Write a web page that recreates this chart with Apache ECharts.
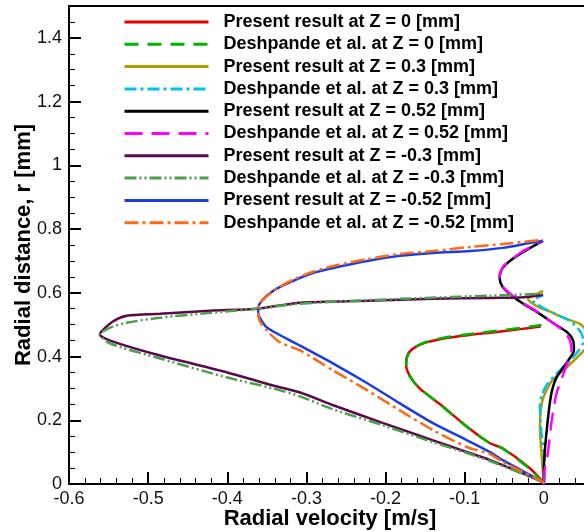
<!DOCTYPE html>
<html>
<head>
<meta charset="utf-8">
<script src="https://cdn.jsdelivr.net/npm/echarts@6/dist/echarts.min.js"></script>
<style>
  html, body { margin: 0; padding: 0; background: #fff; }
  #chart { width: 584px; height: 532px; }
</style>
</head>
<body>
<div id="chart"></div>
<script>
// Radial velocity profiles [v (m/s), r (mm)] at several axial stations Z

// Z = 0 mm
const presentZ0 = [[0,0],[-0.001,0.006],[-0.018,0.05],[-0.052,0.112],[-0.068,0.128],[-0.097,0.18],[-0.131,0.25],[-0.157,0.30],[-0.169,0.338],[-0.174,0.372],[-0.173,0.40],[-0.167,0.422],[-0.153,0.441],[-0.128,0.456],[-0.097,0.467],[-0.068,0.475],[-0.030,0.486],[-0.004,0.494]];
const deshpandeZ0 = [[0,0],[-0.002,0.008],[-0.02,0.052],[-0.054,0.114],[-0.07,0.131],[-0.099,0.183],[-0.133,0.253],[-0.158,0.303],[-0.17,0.34],[-0.174,0.374],[-0.172,0.403],[-0.165,0.425],[-0.151,0.444],[-0.126,0.459],[-0.095,0.47],[-0.066,0.479],[-0.028,0.49],[-0.003,0.499]];

// Z = 0.3 mm
const presentZ03 = [[0,0],[-0.001,0.03],[-0.003,0.097],[-0.005,0.178],[-0.004,0.231],[-0.001,0.269],[0.008,0.316],[0.018,0.344],[0.029,0.366],[0.042,0.397],[0.053,0.426],[0.058,0.452],[0.054,0.48],[0.045,0.503],[0.024,0.522],[0.008,0.541],[-0.005,0.553],[-0.017,0.571],[-0.02,0.581],[-0.011,0.594],[-0.001,0.606]];
const deshpandeZ03 = [[0,0],[0.001,0.03],[0.001,0.075],[-0.003,0.159],[-0.005,0.241],[-0.003,0.278],[0.005,0.316],[0.02,0.356],[0.033,0.388],[0.044,0.419],[0.05,0.447],[0.047,0.475],[0.034,0.51],[0.014,0.534],[0.001,0.55],[-0.011,0.568],[-0.014,0.576],[-0.008,0.585],[-0.001,0.592]];

// Z = 0.52 mm
const presentZ052 = [[0,0],[0,0.044],[0.001,0.097],[0.004,0.178],[0.008,0.262],[0.011,0.30],[0.016,0.334],[0.03,0.385],[0.038,0.42],[0.037,0.45],[0.03,0.475],[0.013,0.503],[-0.009,0.54],[-0.027,0.567],[-0.04,0.59],[-0.052,0.618],[-0.056,0.648],[-0.052,0.678],[-0.043,0.70],[-0.03,0.722],[-0.015,0.744],[-0.001,0.763]];
const deshpandeZ052 = [[0,0],[0.001,0.044],[0.005,0.097],[0.01,0.20],[0.016,0.284],[0.024,0.341],[0.03,0.381],[0.035,0.419],[0.033,0.45],[0.026,0.478],[0.011,0.506],[-0.009,0.542],[-0.027,0.569],[-0.04,0.592],[-0.053,0.622],[-0.056,0.653],[-0.051,0.684],[-0.04,0.706],[-0.028,0.728],[-0.014,0.747],[-0.001,0.764]];

// Z = -0.3 mm
const presentZm03 = [[0,0],[-0.001,0.006],[-0.068,0.075],[-0.097,0.10],[-0.14,0.137],[-0.203,0.191],[-0.266,0.247],[-0.308,0.287],[-0.342,0.309],[-0.40,0.35],[-0.485,0.403],[-0.548,0.45],[-0.561,0.469],[-0.545,0.509],[-0.527,0.528],[-0.485,0.534],[-0.422,0.544],[-0.362,0.55],[-0.308,0.569],[-0.223,0.575],[-0.14,0.581],[-0.068,0.584],[-0.03,0.585],[-0.001,0.594]];
const deshpandeZm03 = [[0,0],[-0.001,0.006],[-0.068,0.072],[-0.097,0.097],[-0.14,0.131],[-0.203,0.184],[-0.266,0.234],[-0.308,0.275],[-0.342,0.30],[-0.40,0.334],[-0.485,0.394],[-0.548,0.441],[-0.561,0.469],[-0.548,0.491],[-0.527,0.506],[-0.485,0.522],[-0.422,0.537],[-0.362,0.55],[-0.308,0.566],[-0.182,0.581],[-0.068,0.591],[-0.001,0.597]];

// Z = -0.52 mm
const presentZm052 = [[0,0],[-0.001,0.006],[-0.052,0.075],[-0.068,0.10],[-0.097,0.137],[-0.14,0.191],[-0.182,0.253],[-0.223,0.316],[-0.266,0.378],[-0.308,0.434],[-0.35,0.491],[-0.359,0.522],[-0.361,0.537],[-0.359,0.566],[-0.342,0.606],[-0.317,0.637],[-0.292,0.662],[-0.266,0.678],[-0.223,0.70],[-0.182,0.716],[-0.14,0.725],[-0.093,0.731],[-0.052,0.741],[-0.018,0.756],[-0.001,0.763]];
const deshpandeZm052 = [[0,0],[-0.001,0.006],[-0.052,0.069],[-0.068,0.094],[-0.097,0.116],[-0.14,0.169],[-0.182,0.231],[-0.223,0.294],[-0.266,0.356],[-0.308,0.419],[-0.333,0.444],[-0.35,0.481],[-0.359,0.512],[-0.361,0.537],[-0.359,0.566],[-0.342,0.606],[-0.317,0.641],[-0.292,0.666],[-0.266,0.684],[-0.223,0.706],[-0.182,0.722],[-0.14,0.731],[-0.093,0.744],[-0.052,0.753],[-0.018,0.762],[-0.001,0.766]];

const seriesNames = [
  'Present result at Z = 0 [mm]',
  'Deshpande et al. at Z = 0 [mm]',
  'Present result at Z = 0.3 [mm]',
  'Deshpande et al. at Z = 0.3 [mm]',
  'Present result at Z = 0.52 [mm]',
  'Deshpande et al. at Z = 0.52 [mm]',
  'Present result at Z = -0.3 [mm]',
  'Deshpande et al. at Z = -0.3 [mm]',
  'Present result at Z = -0.52 [mm]',
  'Deshpande et al. at Z = -0.52 [mm]'
];
const seriesData = [presentZ0, deshpandeZ0, presentZ03, deshpandeZ03, presentZ052, deshpandeZ052, presentZm03, deshpandeZm03, presentZm052, deshpandeZm052];
const colors = ['#e00000', '#00b400', '#b09c00', '#00c0f0', '#000000', '#ff00ff', '#5a0a4a', '#4ca04c', '#1a3ce6', '#ff6a10'];
const dashes = ['solid', [14, 9], 'solid', [12, 4, 3, 4], 'solid', [18, 9], 'solid', [12, 3, 2, 3, 2, 3], 'solid', [14, 4, 3, 4]];

const xTicks = { min: -0.6, max: 0.1, interval: 0.1 };
const yTicks = { min: 0, max: 1.5, interval: 0.2 };

const FONT = '"Liberation Sans", Arial, sans-serif';

const chart = echarts.init(document.getElementById('chart'), null, { renderer: 'canvas' });

chart.setOption({
  animation: false,
  backgroundColor: '#ffffff',
  grid: {
    left: 69, top: 6, bottom: 48, right: -39,
    outerBoundsMode: 'none',
    containLabel: false,
    show: true, borderColor: '#000', borderWidth: 2, backgroundColor: 'transparent'
  },
  legend: {
    orient: 'vertical',
    left: 123, top: 13, padding: 0,
    itemWidth: 84, itemHeight: 18, itemGap: 4.3,
    data: seriesNames,
    itemStyle: { opacity: 0 },
    lineStyle: { width: 3 },
    textStyle: { fontFamily: FONT, fontSize: 18, fontWeight: 'bold', color: '#000', lineHeight: 18, padding: [0, 0, 0, 10] }
  },
  xAxis: {
    type: 'value',
    min: xTicks.min, max: xTicks.max, interval: xTicks.interval,
    name: 'Radial velocity [m/s]',
    nameLocation: 'middle', nameGap: 24,
    nameMoveOverlap: false,
    nameTextStyle: { fontFamily: FONT, fontSize: 22, fontWeight: 'bold', color: '#000', padding: [0, 32, 0, 0] },
    axisLine: { onZero: false, lineStyle: { color: '#000', width: 2 } },
    axisTick: { inside: true, length: 12, lineStyle: { color: '#000', width: 2 } },
    minorTick: { show: true, splitNumber: 5, length: 6, lineStyle: { color: '#000', width: 1 } },
    axisLabel: { fontFamily: FONT, fontSize: 18, color: '#111', margin: 6 },
    splitLine: { show: false }
  },
  yAxis: {
    type: 'value',
    min: yTicks.min, max: yTicks.max, interval: yTicks.interval,
    name: 'Radial distance, r [mm]',
    nameLocation: 'middle', nameGap: 34,
    nameMoveOverlap: false,
    nameTextStyle: { fontFamily: FONT, fontSize: 22, fontWeight: 'bold', color: '#000' },
    axisLine: { onZero: false, lineStyle: { color: '#000', width: 2 } },
    axisTick: { inside: true, length: 12, lineStyle: { color: '#000', width: 2 } },
    minorTick: { show: true, splitNumber: 4, length: 6, lineStyle: { color: '#000', width: 1 } },
    axisLabel: { fontFamily: FONT, fontSize: 18, color: '#111', margin: 7, showMaxLabel: false },
    splitLine: { show: false }
  },
  series: seriesNames.map((name, i) => ({
    name: name,
    type: 'line',
    data: seriesData[i],
    symbol: 'none',
    smooth: 0.25,
    clip: true,
    color: colors[i],
    lineStyle: { color: colors[i], width: 2.5, type: dashes[i] }
  }))
});
</script>
</body>
</html>
